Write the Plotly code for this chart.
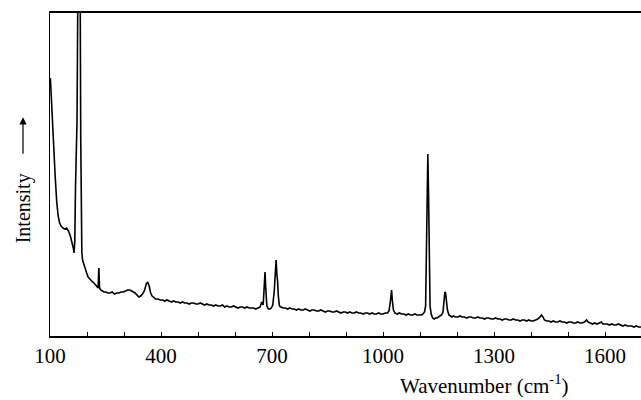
import plotly.graph_objects as go

# Raman spectrum (wavenumber in cm-1, intensity in arbitrary units)
wavenumber = [
    101, 104, 107, 110, 114, 118, 122, 126, 130, 135, 140, 145, 150, 155, 159,
    163, 165, 167, 169, 171, 173, 175, 177, 179, 181, 183, 184, 186, 188, 191,
    195, 199, 203, 207, 211, 215, 219, 223, 227, 230, 232, 234, 237, 241, 246,
    251, 256, 262, 268, 274, 280, 286, 292, 298, 304, 310, 316, 322, 330, 340,
    345, 350, 355, 360, 364, 368, 372, 376, 381, 386, 392, 398, 404, 410, 416,
    422, 428, 434, 440, 446, 452, 458, 464, 470, 476, 482, 488, 494, 500, 506,
    512, 518, 524, 530, 536, 542, 548, 554, 560, 566, 572, 578, 584, 590, 596,
    602, 608, 614, 620, 626, 632, 638, 644, 650, 656, 662, 668, 672, 676, 679,
    681, 683, 686, 690, 694, 698, 702, 706, 709, 711, 713, 715, 717, 720, 724,
    730, 736, 742, 748, 754, 760, 766, 772, 778, 784, 790, 796, 802, 808, 814,
    820, 826, 832, 838, 844, 850, 856, 862, 868, 874, 880, 886, 892, 898, 904,
    910, 916, 922, 928, 934, 940, 946, 952, 958, 964, 970, 976, 982, 988, 994,
    1000, 1006, 1012, 1016, 1019, 1021, 1023, 1025, 1028, 1032, 1038, 1044, 1050, 1056, 1062,
    1068, 1074, 1080, 1086, 1092, 1098, 1104, 1108, 1112, 1115, 1117, 1119, 1121, 1123, 1125,
    1127, 1130, 1134, 1138, 1142, 1146, 1150, 1154, 1158, 1162, 1165, 1167, 1169, 1171, 1174,
    1178, 1182, 1186, 1190, 1196, 1202, 1208, 1214, 1220, 1226, 1232, 1238, 1244, 1250, 1256,
    1262, 1268, 1274, 1280, 1286, 1292, 1298, 1304, 1310, 1316, 1322, 1328, 1334, 1340, 1346,
    1352, 1358, 1364, 1370, 1376, 1382, 1388, 1394, 1400, 1406, 1412, 1418, 1424, 1428, 1432,
    1436, 1442, 1448, 1454, 1460, 1466, 1472, 1478, 1484, 1490, 1496, 1502, 1508, 1514, 1520,
    1526, 1532, 1538, 1544, 1550, 1554, 1560, 1566, 1572, 1578, 1584, 1590, 1594, 1600, 1606,
    1612, 1618, 1624, 1630, 1636, 1642, 1648, 1654, 1660, 1666, 1672, 1678, 1684, 1690, 1697,
]
intensity = [
    258, 235, 205, 180, 160, 135, 120, 113, 110, 108, 107, 108, 105, 100, 95,
    88, 83, 95, 150, 200, 215, 330, 450, 480, 400, 200, 120, 84, 76, 72,
    68, 63, 59, 57, 56, 54, 53, 51, 49, 48, 68, 48, 46, 45, 44,
    44, 43, 43, 44, 42, 43, 43, 44, 44, 45, 46, 46, 45, 43, 39,
    40, 42, 45, 52, 54, 50, 43, 40, 38, 37, 37, 36, 36, 35, 36,
    35, 34, 35, 34, 34, 33, 34, 33, 33, 32, 33, 33, 32, 32, 33,
    32, 31, 32, 31, 31, 30, 31, 30, 30, 31, 29, 30, 29, 29, 30,
    29, 28, 29, 29, 28, 29, 28, 28, 28, 27, 28, 29, 34, 31, 50,
    64, 48, 30, 27, 27, 28, 31, 45, 60, 76, 62, 55, 40, 30, 29,
    28, 28, 27, 28, 27, 27, 26, 27, 26, 26, 27, 26, 25, 26, 26,
    25, 25, 26, 25, 24, 25, 25, 24, 24, 25, 24, 23, 24, 24, 23,
    24, 23, 23, 24, 23, 23, 22, 23, 23, 22, 23, 22, 22, 23, 22,
    22, 23, 23, 25, 32, 45, 46, 36, 26, 23, 22, 23, 22, 22, 21,
    22, 21, 21, 22, 21, 21, 21, 22, 24, 30, 80, 160, 182, 140, 50,
    30, 22, 18, 17, 18, 18, 19, 20, 21, 24, 35, 44, 43, 35, 26,
    21, 20, 19, 20, 19, 19, 20, 19, 19, 18, 19, 19, 18, 18, 19,
    18, 18, 17, 18, 18, 17, 17, 18, 17, 17, 16, 17, 17, 16, 16,
    17, 16, 16, 15, 16, 16, 15, 16, 15, 15, 16, 17, 19, 21, 19,
    16, 15, 15, 14, 15, 14, 14, 15, 14, 14, 13, 14, 14, 13, 13,
    14, 13, 13, 14, 16, 14, 13, 12, 13, 12, 13, 14, 12, 12, 12,
    11, 12, 11, 11, 12, 11, 10, 11, 10, 10, 10, 9, 10, 9, 9,
]

label_values = [100, 400, 700, 1000, 1300, 1600]
label_texts = ["100", "400", "700", "1000", "1300", "1600"]

FONT = "Liberation Serif, Times New Roman, serif"

fig = go.Figure()
fig.add_trace(go.Scatter(
    x=wavenumber, y=intensity, mode="lines",
    line=dict(color="black", width=1.6),
    showlegend=False, hoverinfo="skip",
))

fig.update_layout(
    width=641, height=400,
    margin=dict(l=50, r=0, t=13, b=64),
    paper_bgcolor="white", plot_bgcolor="white",
    font=dict(family=FONT, size=21, color="black"),
    xaxis=dict(
        range=[100, 1697],
        tickmode="array", tickvals=label_values, ticktext=label_texts,
        ticks="inside", ticklen=4, tickwidth=1, tickcolor="black",
        minor=dict(ticks="inside", tick0=100, dtick=100, ticklen=4,
                   tickwidth=1, tickcolor="black", showgrid=False),
        showline=True, linecolor="black", linewidth=1.5, mirror=True,
        showgrid=False, zeroline=False,
        tickfont=dict(family=FONT, size=21, color="black"),
    ),
    yaxis=dict(
        range=[0, 323],
        showticklabels=False, ticks="",
        showline=True, linecolor="black", linewidth=1.2,
        showgrid=False, zeroline=False,
    ),
    annotations=[
        dict(text="Wavenumber (cm<sup>-1</sup>)", xref="paper", yref="paper",
             x=0.736, y=-0.150, xanchor="center", yanchor="middle",
             showarrow=False, font=dict(family=FONT, size=21, color="black")),
        dict(text="Intensity", xref="paper", yref="paper",
             x=-0.0457, y=0.677, textangle=-90,
             showarrow=True, axref="pixel", ayref="pixel", ax=0, ay=91,
             arrowhead=2, arrowsize=1.2, arrowwidth=1.2, arrowcolor="black",
             startstandoff=18,
             font=dict(family=FONT, size=20, color="black")),
    ],
)

fig.write_html("out.html")
